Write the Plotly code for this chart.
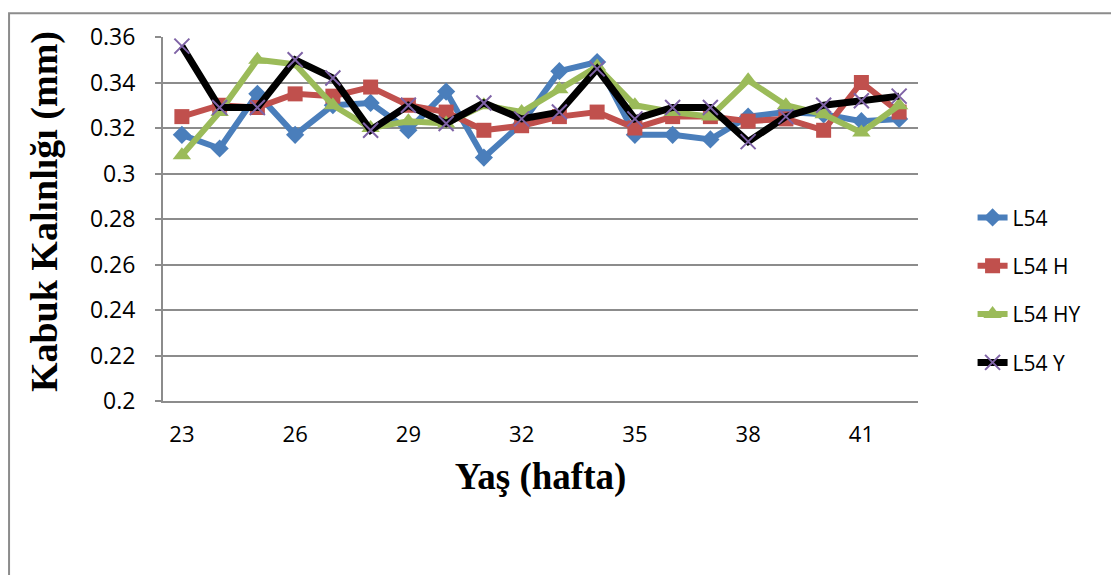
import plotly.graph_objects as go

weeks = [23, 24, 25, 26, 27, 28, 29, 30, 31, 32, 33, 34, 35, 36, 37, 38, 39, 40, 41, 42]
tick_weeks = [23, 26, 29, 32, 35, 38, 41]

l54 = [0.317, 0.311, 0.335, 0.317, 0.330, 0.331, 0.319, 0.336, 0.307, 0.322,
       0.345, 0.349, 0.317, 0.317, 0.315, 0.325, 0.327, 0.326, 0.323, 0.324]
l54_h = [0.325, 0.330, 0.329, 0.335, 0.334, 0.338, 0.330, 0.327, 0.319, 0.321,
         0.325, 0.327, 0.320, 0.325, 0.325, 0.323, 0.324, 0.319, 0.340, 0.327]
l54_hy = [0.308, 0.327, 0.350, 0.348, 0.330, 0.320, 0.323, 0.322, 0.330, 0.327,
          0.337, 0.347, 0.330, 0.327, 0.325, 0.341, 0.330, 0.326, 0.318, 0.330]
l54_y = [0.356, 0.329, 0.329, 0.350, 0.342, 0.319, 0.330, 0.322, 0.331, 0.324,
         0.327, 0.346, 0.324, 0.329, 0.329, 0.314, 0.325, 0.330, 0.332, 0.334]

series = [
    ("L54", l54, "#4A7EBB", dict(symbol="diamond", size=14, color="#4A7EBB"), 6),
    ("L54 H", l54_h, "#C0504D", dict(symbol="square", size=15, color="#C0504D"), 6),
    ("L54 HY", l54_hy, "#9BBB59", dict(symbol="triangle-up", size=16, color="#9BBB59"), 6),
    ("L54 Y", l54_y, "#000000", dict(symbol="x-thin", size=15, color="#7F63A6",
                                    line=dict(color="#7F63A6", width=2)), 7),
]

fig = go.Figure()
for i, (name, vals, col, mk, lw) in enumerate(series):
    fig.add_trace(go.Scatter(
        x=weeks, y=vals, name=name, mode="lines+markers",
        line=dict(color=col, width=lw), marker=mk,
        legendgroup=f"g{i}",
    ))

grid_col = "#8C8C8C"
serif = "Liberation Serif, Times New Roman, serif"
fig.update_layout(
    width=1119, height=575,
    margin=dict(l=155, r=209, t=25, b=182),
    paper_bgcolor="white", plot_bgcolor="white",
    font=dict(family="Open Sans, Liberation Sans, sans-serif", color="#000000"),
    showlegend=True,
    legend=dict(
        xref="container", yref="container",
        x=0.862, y=0.509, xanchor="left", yanchor="middle",
        font=dict(size=21, family="Open Sans, sans-serif"),
        tracegroupgap=18, bgcolor="rgba(0,0,0,0)",
    ),
    xaxis=dict(
        range=[22.5, 42.5], tickmode="array", tickvals=tick_weeks,
        ticktext=[str(w) for w in tick_weeks],
        showgrid=False, showline=True, linecolor=grid_col, linewidth=2,
        ticks="", tickfont=dict(size=22), ticklabelstandoff=13,
        zeroline=False,
        title=dict(text="Yaş (hafta)", standoff=16,
                   font=dict(family=serif, size=37, color="#000000", weight="bold")),
    ),
    yaxis=dict(
        range=[0.2, 0.36], tick0=0.2, dtick=0.02,
        showgrid=True, gridcolor=grid_col, gridwidth=2,
        showline=True, linecolor=grid_col, linewidth=2,
        ticks="outside", ticklen=6, tickcolor=grid_col, tickwidth=2,
        tickfont=dict(size=23), ticklabelstandoff=15, zeroline=False,
    ),
    annotations=[dict(
        text="Kabuk Kalınlığı (mm)", textangle=-90, showarrow=False,
        xref="paper", yref="paper", x=-0.1576, y=0.519,
        xanchor="center", yanchor="middle",
        font=dict(family=serif, size=38, color="#000000", weight="bold"),
    )],
)

fig.add_shape(type="rect", xref="paper", yref="paper",
              x0=-0.2039, x1=1.2690, y0=-0.6, y1=1.0651,
              line=dict(color="#8C8C8C", width=2), fillcolor="rgba(0,0,0,0)",
              layer="below")

fig.write_html("out.html")
